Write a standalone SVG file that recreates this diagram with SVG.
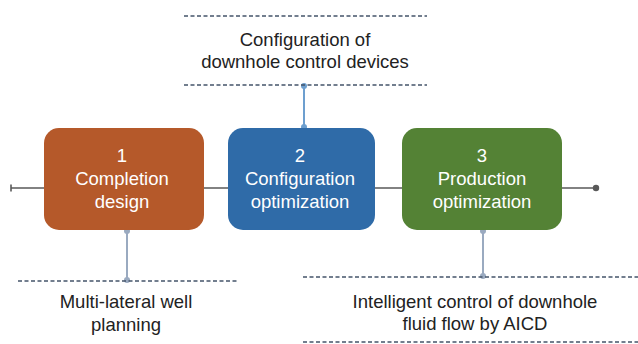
<svg xmlns="http://www.w3.org/2000/svg" width="638" height="344" viewBox="0 0 638 344">
  <style>
    .box-text { font-family: "Liberation Sans", Arial, sans-serif; font-size: 18.5px; fill: #ffffff; text-anchor: middle; }
    .note { font-family: "Liberation Sans", Arial, sans-serif; font-size: 18.5px; fill: #222222; text-anchor: middle; }
    .main { stroke: #595959; stroke-width: 1.6; fill: none; }
    .dash { stroke: #44546a; stroke-width: 1.3; stroke-dasharray: 4 2.5; fill: none; }
    .link-blue { stroke: #6d9fcf; stroke-width: 2; fill: none; }
    .link-grey { stroke: #9aaac0; stroke-width: 2; fill: none; }
  </style>
  <rect width="638" height="344" fill="#ffffff"/>

  <!-- main process line and connectors -->
  <g id="connectors">
    <line class="main" x1="11" y1="188" x2="596" y2="188"/>
    <line class="main" x1="11" y1="184.5" x2="11" y2="191.5"/>
    <circle cx="596" cy="188" r="3.2" fill="#595959"/>

    <!-- step 2 to top note -->
    <line class="link-blue" x1="304" y1="85" x2="304" y2="128"/>
    <circle cx="304" cy="86" r="3" fill="#6d9fcf"/>
    <circle cx="304" cy="127" r="3" fill="#6d9fcf"/>

    <!-- step 1 to bottom note -->
    <line class="link-grey" x1="127" y1="230" x2="127" y2="281"/>
    <circle cx="127" cy="231" r="3" fill="#9aaac0"/>
    <circle cx="127" cy="280" r="3" fill="#9aaac0"/>

    <!-- step 3 to bottom note -->
    <line class="link-grey" x1="483" y1="230" x2="483" y2="277"/>
    <circle cx="483" cy="231" r="3" fill="#9aaac0"/>
    <circle cx="483" cy="276" r="3" fill="#9aaac0"/>
  </g>

  <g id="step1">
    <rect x="44" y="128" width="160" height="102" rx="15" fill="#b5592a"/>
    <text class="box-text" x="122" y="162">1</text>
    <text class="box-text" x="122" y="185">Completion</text>
    <text class="box-text" x="122" y="208">design</text>
  </g>

  <g id="step2">
    <rect x="228" y="128" width="147" height="102" rx="15" fill="#2f6ba8"/>
    <text class="box-text" x="300" y="162">2</text>
    <text class="box-text" x="300" y="185">Configuration</text>
    <text class="box-text" x="300" y="208">optimization</text>
  </g>

  <g id="step3">
    <rect x="402" y="128" width="160" height="102" rx="15" fill="#548235"/>
    <text class="box-text" x="482" y="162">3</text>
    <text class="box-text" x="482" y="185">Production</text>
    <text class="box-text" x="482" y="208">optimization</text>
  </g>

  <g id="note-top">
    <line class="dash" x1="184" y1="16" x2="427" y2="16"/>
    <line class="dash" x1="184" y1="85" x2="427" y2="85"/>
    <text class="note" x="305" y="46">Configuration of</text>
    <text class="note" x="305" y="68">downhole control devices</text>
  </g>

  <g id="note-left">
    <line class="dash" x1="18" y1="281" x2="237" y2="281"/>
    <text class="note" x="126" y="308">Multi-lateral well</text>
    <text class="note" x="126" y="331">planning</text>
  </g>

  <g id="note-right">
    <line class="dash" x1="303" y1="277" x2="638" y2="277"/>
    <line class="dash" x1="303" y1="342" x2="638" y2="342"/>
    <text class="note" x="475" y="308">Intelligent control of downhole</text>
    <text class="note" x="475" y="330">fluid flow by AICD</text>
  </g>
</svg>
